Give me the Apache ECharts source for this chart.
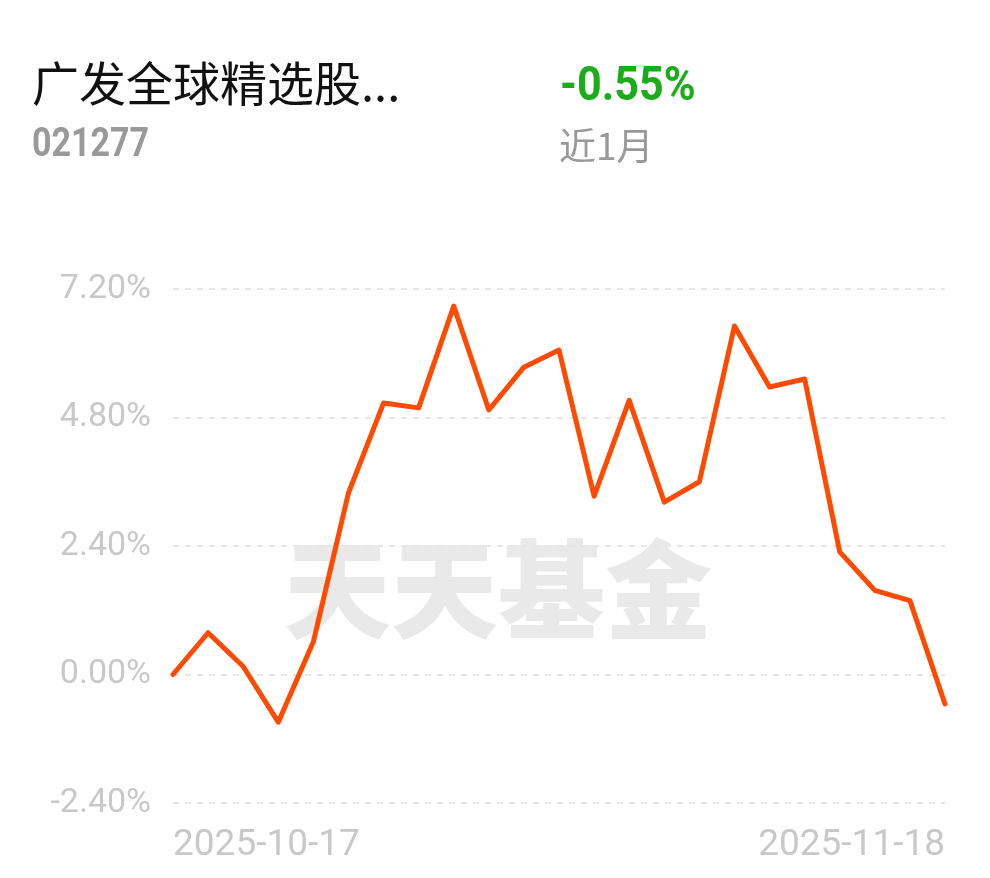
<!DOCTYPE html>
<html>
<head>
<meta charset="utf-8">
<script src="https://cdn.jsdelivr.net/npm/echarts@6/dist/echarts.min.js"></script>
<style>
html,body{margin:0;padding:0;background:#fff;}
#c{width:990px;height:878px;}
</style>
</head>
<body>
<div id="c"></div>
<script>
const fundName = '广发全球精选股...';
const fundCode = '021277';
const periodReturn = '-0.55%';
const periodLabel = '近1月';
const watermark = '天天基金';

const dates = ['2025-10-17','2025-10-20','2025-10-21','2025-10-22','2025-10-23','2025-10-24',
  '2025-10-27','2025-10-28','2025-10-29','2025-10-30','2025-10-31',
  '2025-11-03','2025-11-04','2025-11-05','2025-11-06','2025-11-07',
  '2025-11-10','2025-11-11','2025-11-12','2025-11-13','2025-11-14',
  '2025-11-17','2025-11-18'];
const returns = [0.00, 0.78, 0.15, -0.89, 0.61, 3.39, 5.07, 4.98, 6.88, 4.94, 5.74, 6.06,
  3.33, 5.12, 3.22, 3.60, 6.51, 5.37, 5.52, 2.29, 1.57, 1.38, -0.55];
const yTicks = [-2.4, 0, 2.4, 4.8, 7.2];

const chart = echarts.init(document.getElementById('c'), null, {renderer:'canvas'});
const last = dates.length - 1;
chart.setOption({
  animation: false,
  backgroundColor: '#fff',
  graphic: [
    {type:'text', x:32, y:60, z:10, style:{text:fundName, font:'47px "Noto Sans CJK SC"', fill:'#111'}},
    {type:'text', x:32, y:125, scaleX:0.83, z:10, style:{text:fundCode, font:'bold 41px Roboto', fill:'#999'}},
    {type:'text', x:560, y:63, scaleX:0.88, z:10, style:{text:periodReturn, font:'bold 49px Roboto', fill:'#1aad19'}},
    {type:'text', x:559, y:127, z:10, style:{text:periodLabel, font:'37px "Noto Sans CJK SC"', fill:'#999'}},
    {type:'text', x:284, y:536, z:-10, style:{text:watermark, font:'900 107px "Noto Sans CJK SC"', fill:'#e9e9e9'}}
  ],
  grid: {left:173, right:45, top:289, bottom:75, containLabel:false},
  xAxis: {
    type:'category', data:dates, boundaryGap:false,
    axisLine:{show:false}, axisTick:{show:false},
    axisLabel:{
      interval:(i)=> i===0 || i===last,
      showMinLabel:true, showMaxLabel:true,
      alignMinLabel:'left', alignMaxLabel:'right',
      color:'#c8c8c8', fontSize:37, fontFamily:'Roboto', margin:24
    },
    splitLine:{show:false}
  },
  yAxis: {
    type:'value', min:yTicks[0], max:yTicks[yTicks.length-1], interval:2.4,
    axisLine:{show:false}, axisTick:{show:false},
    axisLabel:{formatter:(v)=>v.toFixed(2)+'%', color:'#c8c8c8', fontSize:34, fontFamily:'Roboto', margin:22},
    splitLine:{show:true, lineStyle:{type:[6,6], color:'#e6e6e6', width:2}}
  },
  series: [{
    type:'line', data:returns, symbol:'none', z:5,
    lineStyle:{color:'#ff4a00', width:5, join:'round', cap:'round'}
  }]
});
</script>
</body>
</html>
